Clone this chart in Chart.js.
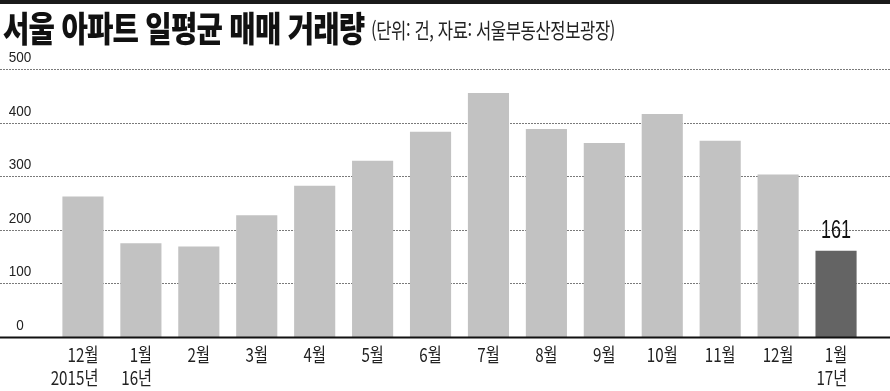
<!DOCTYPE html>
<html lang="ko">
<head>
<meta charset="utf-8">
<script src="https://cdn.jsdelivr.net/npm/chart.js@4.4.1/dist/chart.umd.min.js"></script>
<style>
  html, body { margin: 0; padding: 0; background: #fff; }
  #wrap { position: relative; width: 890px; height: 391px; overflow: hidden; }
  #topBar { position: absolute; left: 0; top: 0; width: 890px; height: 4px; background: #1a1a1a; }
  .ttl {
    position: absolute; white-space: nowrap; line-height: 1;
    font-family: "Noto Sans CJK KR", sans-serif; color: #111;
    transform-origin: left top;
  }
  #titleMain { left: 3px; top: 9px; font-size: 35px; font-weight: 900; letter-spacing: -1px; transform: scaleX(0.82); }
  #titleSub { left: 371px; top: 19px; font-size: 21px; font-weight: 400; color: #222; letter-spacing: -0.5px; transform: scaleX(0.79); }
  canvas { position: absolute; left: 0; top: 0; }
</style>
</head>
<body>
<div id="wrap">
  <canvas id="tradeChart" width="890" height="391"></canvas>
  <div id="topBar"></div>
  <div class="ttl" id="titleMain">서울 아파트 일평균 매매 거래량</div>
  <div class="ttl" id="titleSub">(단위: 건, 자료: 서울부동산정보광장)</div>
</div>
<script>
// Chart data
const months = ['12월', '1월', '2월', '3월', '4월', '5월', '6월', '7월', '8월', '9월', '10월', '11월', '12월', '1월'];
const years = ['2015년', '16년', '', '', '', '', '', '', '', '', '', '', '', '17년'];
const dailyTrades = [262, 175, 169, 227, 282, 329, 383, 455, 388, 362, 416, 366, 303, 161];
const yTicks = [0, 100, 200, 300, 400, 500];
const highlightIndex = 13;

const numFont = '"Liberation Sans", Arial, sans-serif';
const krFont = '"Noto Sans CJK KR", sans-serif';

// narrow text: draw horizontally squeezed
function squeezedText(ctx, text, x, y, sx, align) {
    ctx.save();
    ctx.translate(x, y);
    ctx.scale(sx, 1);
    ctx.textAlign = align || 'center';
    ctx.fillText(text, 0, 0);
    ctx.restore();
}

function squeezedWidth(ctx, text, sx) {
    return ctx.measureText(text).width * sx;
}

const gridPlugin = {
    id: 'gridPlugin',
    beforeDatasetsDraw(chart) {
        const { ctx, scales: { y } } = chart;
        ctx.save();
        // dotted gridlines across whole width
        ctx.strokeStyle = '#7a7a7a';
        ctx.lineWidth = 1;
        ctx.setLineDash([2, 1]);
        yTicks.forEach(v => {
            if (v === 0) return;
            const py = Math.round(y.getPixelForValue(v)) + 0.5;
            ctx.beginPath();
            ctx.moveTo(0, py);
            ctx.lineTo(chart.width, py);
            ctx.stroke();
        });
        ctx.setLineDash([]);
        // y labels sit on top of the lines
        ctx.fillStyle = '#222';
        ctx.font = '15px ' + numFont;
        ctx.textBaseline = 'alphabetic';
        yTicks.forEach(v => {
            squeezedText(ctx, String(v), 20, y.getPixelForValue(v) - 7, 0.9, 'center');
        });
        ctx.restore();
    },
    afterDatasetsDraw(chart) {
        const { ctx, scales: { x, y } } = chart;
        ctx.save();
        // baseline
        const py = y.getPixelForValue(0);
        ctx.fillStyle = '#111';
        ctx.fillRect(0, py - 0.5, chart.width, 2);

        // month / year labels, year right aligned under month
        ctx.fillStyle = '#222';
        ctx.font = '19px ' + krFont;
        ctx.textBaseline = 'alphabetic';
        months.forEach((m, i) => {
            const cx = x.getPixelForValue(i);
            squeezedText(ctx, m, cx, 362, 0.8, 'center');
            if (years[i]) {
                const right = cx + squeezedWidth(ctx, m, 0.8) / 2;
                squeezedText(ctx, years[i], right, 385, 0.8, 'right');
            }
        });

        // value label on the highlighted bar
        const bar = chart.getDatasetMeta(0).data[highlightIndex];
        ctx.font = '25px ' + numFont;
        ctx.fillStyle = '#111';
        squeezedText(ctx, String(dailyTrades[highlightIndex]), bar.x, bar.y - 13, 0.72, 'center');
        ctx.restore();
    }
};

const ctx = document.getElementById('tradeChart').getContext('2d');
const tradeChart = new Chart(ctx, {
    type: 'bar',
    data: {
        labels: months,
        datasets: [{
            data: dailyTrades,
            backgroundColor: dailyTrades.map((v, i) => i === highlightIndex ? '#646464' : '#c2c2c2'),
            borderWidth: 0,
            categoryPercentage: 1,
            barPercentage: 0.71
        }]
    },
    options: {
        responsive: false,
        animation: false,
        layout: { padding: { left: 54, right: 25, top: 69, bottom: 54 } },
        plugins: { legend: { display: false }, tooltip: { enabled: false } },
        scales: {
            x: {
                display: false
            },
            y: {
                display: false,
                min: 0,
                max: 500
            }
        }
    },
    plugins: [gridPlugin]
});
</script>
</body>
</html>
